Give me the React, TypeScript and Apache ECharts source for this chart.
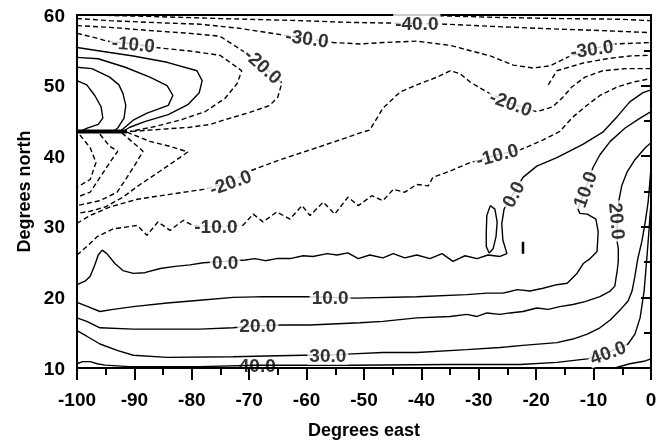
import React, { useEffect, useRef } from "react";
import * as echarts from "echarts";

// ---- contour polylines (degrees east, degrees north) ----
const cM50 = [[-41.1,60],[-35,59.85],[-26.3,59.65],[-15.9,59.5],[-5.4,59.4],[0,59.2]];
const cM40 = [[-97.7,60],[-87.3,59.8],[-75.1,59.5],[-61.1,59.2],[-52.4,58.95],[-40.8,58.8],[-35.9,58.7],[-28,58.4],[-19.3,58.1],[-8.9,57.8],[0,57.5]];
const cM30 = [[-100,59.5],[-94.3,59.2],[-87.3,58.95],[-78.6,58.7],[-71.6,58.1],[-65.2,57.3],[-59.9,56.7],[-55.4,56.1],[-50.7,55.9],[-46.7,56.1],[-40.8,56.3],[-35,55.7],[-28,54.2],[-24,52.9],[-20.6,52.5],[-17.6,52.8],[-14.6,54],[-10.3,55.2],[-6.3,55.9],[0,56.1]];
const cM20Upper = [[-100,58.5],[-94.3,58.25],[-87.3,57.8],[-80.3,57.4],[-75.1,57],[-71.1,54.9],[-67.6,52.8],[-64.3,50.4],[-65,48.4],[-66.4,47.2],[-69.9,46.2],[-73.3,45.4],[-76.8,44.5],[-80.3,44.1],[-85.5,43.8],[-90.8,43.5]];
const cM10Upper = [[-100,57.4],[-96.9,56.8],[-94.8,56.3],[-90.2,55.9],[-86.4,55.4],[-80.3,54.9],[-75.1,54.3],[-71.3,52.1],[-72.1,50.3],[-74.2,48.2],[-77.7,46.3],[-82.1,45.1],[-86.4,44.2],[-90.8,43.5]];
const cM20Lower = [[-100,30.5],[-97.7,31.6],[-94.3,32.8],[-89.5,33.9],[-83.8,34.6],[-78,35.3],[-73.3,36.3],[-69.9,37.9],[-64.6,39.5],[-59.4,40.9],[-54.2,42.3],[-50.7,43.3],[-49,43.7],[-46.7,46.8],[-43.7,49.1],[-40.8,50.1],[-37.3,51.2],[-35,52.1],[-33.3,51.7],[-31.5,50.5],[-28.6,49.1],[-24.4,47.5],[-19.9,46.3],[-17.1,47],[-15.3,48.4],[-13.8,49.8],[-11.5,51.2],[-8.4,52.1],[-4.5,52.4],[0,52.4]];
const cM10Lower = [[-100,26],[-98.3,27.2],[-96.5,28.6],[-93.7,29.7],[-89.5,30.2],[-87.8,28.8],[-85.9,30.7],[-83.8,29.5],[-81.5,30.9],[-79.8,30.2],[-75.8,30],[-71.1,30.2],[-69.3,31.8],[-67.6,30.7],[-65.2,32.1],[-62.9,31.1],[-60.8,33],[-59.4,31.6],[-57.1,33.5],[-55.1,31.8],[-52.8,34.2],[-51,33],[-48.6,34.4],[-46.7,33.7],[-44.9,35.3],[-42.9,34.9],[-40.8,36],[-38.8,35.8],[-38,37],[-35,37.9],[-31.5,39.1],[-26.8,40.2],[-22.8,40.9],[-18.8,42.3],[-15.9,43.5],[-13.8,45.4],[-11.5,47],[-8.9,48.6],[-5.9,49.8],[-3.1,50.5],[0,51]];
const cMExtra = [[-17.9,50.1],[-16.4,52.1],[-11.8,53.2],[-7.7,53.8],[-3.7,54.2],[0,54.3]];
const fan1 = [[-91.3,43.4],[-87.3,42.1],[-83.8,41.4],[-80.7,40.6],[-82.1,39.8],[-85.5,37.9],[-89,36],[-92,34.2],[-95.1,32.8],[-97.7,32.2],[-100,31.9]];
const fan2 = [[-92.2,43.3],[-89.9,41.7],[-88.5,40.7],[-89.5,39.3],[-91.3,37],[-93,34.9],[-96,33.7],[-100,33]];
const fan3 = [[-96,43.1],[-94.3,41.4],[-92.9,40.7],[-93.7,39.8],[-96,37],[-97.7,34.9],[-100,34.2]];
const fan4 = [[-99.5,43],[-97.7,41.2],[-96.7,39.1],[-97.7,36.7],[-100,35.6]];

const bubble0 = [[-100,55.4],[-96,54.9],[-90.2,54.2],[-84.3,53.3],[-79.1,52.1],[-78.2,50.7],[-78.7,49],[-80.7,47.3],[-84.1,45.9],[-88.2,44.9],[-90.8,44.1],[-92,43.5]];
const bubble10 = [[-100,54],[-96.3,53.8],[-91.6,52.6],[-87.3,51.2],[-84.3,50],[-83.3,48.6],[-84.1,47.2],[-87.8,46.1],[-90.2,45.1],[-91.8,44],[-92.5,43.5]];
const bubble20 = [[-100,52.6],[-97.4,52.4],[-94.3,51.2],[-92.7,50.1],[-92,48.9],[-91.5,47.2],[-91.8,45.4],[-92.9,44],[-93.7,43.5]];
const bubble30 = [[-100,50.7],[-98.3,50.1],[-96.9,48.6],[-95.8,47],[-95.5,45.4],[-96.3,44.5],[-98.1,44],[-99.5,43.5]];
const thickFront = [[-100,43.5],[-91.3,43.5]];

const c0 = [[-100,21.8],[-98.6,22.3],[-97.7,23],[-96.9,24.6],[-96.3,26],[-95.6,26.7],[-94.8,26.2],[-93.4,24.8],[-92,23.8],[-90.2,23.4],[-88.2,23.5],[-85.5,24.1],[-82.9,24.4],[-80.3,24.6],[-78,24.9],[-74.2,25.1],[-70.7,25.3],[-69,25.5],[-67.2,25.2],[-65.2,25.5],[-62.9,25.5],[-60.6,25.9],[-58.9,25.8],[-56.4,26.2],[-54.7,26],[-52.8,26.3],[-51,25.5],[-49,26],[-46.7,25.6],[-44.9,26.2],[-42.9,25.6],[-40.8,26],[-38.5,25.5],[-36.4,26.2],[-34.5,25.1],[-32.4,25.9],[-30.3,25.5],[-28.4,26],[-26.3,25.8],[-25.1,26.2],[-25.8,28.1],[-26,30.4],[-25.6,32.5],[-24,34.7],[-22.3,37],[-19.9,38.6],[-16.4,39.8],[-11.8,41.7],[-8.4,43.4],[-5.9,45.6],[-3.7,47.7],[-1.4,49],[0,49.4]];
const c0Loop = [[-28,33],[-27.2,32.5],[-26.8,30.7],[-27,28.6],[-27.5,26.9],[-28.2,26.3],[-28.7,27.2],[-28.7,29.3],[-28.6,31.6],[-28,33]];
const c0Dot = [[-22.3,27.9],[-22.3,26.2]];
const c10 = [[-100,19.3],[-98.1,18.7],[-96,18],[-93.7,18.3],[-90.2,18.7],[-84.3,19.2],[-78.6,19.6],[-72.8,20],[-67.6,20.1],[-59.9,20.1],[-55.9,20],[-51.6,19.9],[-40.8,20.1],[-32.1,20.4],[-28.6,20.6],[-25.8,20.6],[-23.3,21.1],[-21.1,20.9],[-18.8,21.3],[-16.4,21.8],[-14.6,22],[-12.9,23.4],[-11.8,24.8],[-10.6,25.5],[-9.4,26.5],[-9.2,29.3],[-9.6,31.1],[-11.1,31.8],[-12.4,31.9],[-12.7,32.5],[-11.5,35.3],[-10.1,38.4],[-8.9,40.2],[-7.1,42.1],[-4.5,44],[-1.9,45.4],[0,46.3]];
const c20 = [[-100,17.1],[-98.3,16.6],[-96,15.7],[-90.2,15.5],[-84.3,15.5],[-78.6,15.5],[-72.8,15.7],[-68.5,16],[-64.1,16.1],[-59.4,16.1],[-50.7,16.4],[-46.7,16.6],[-40.8,17.1],[-35,17.3],[-32.1,17.6],[-30.3,17.3],[-28.6,17.8],[-26.3,17.6],[-24.6,17.8],[-22.3,18],[-19.9,18.5],[-17.9,18.3],[-15.9,18.7],[-13.6,19],[-11.5,19.4],[-8.9,20.1],[-7.1,20.9],[-6.3,21.6],[-6.1,22.7],[-5.9,23.7],[-5.7,25.1],[-5.7,26.9],[-5.9,27.9],[-5.9,30.8],[-5.6,33.7],[-5.1,35.8],[-4.2,37.7],[-2.8,39.5],[-1,41.2],[0,41.9]];
const c30 = [[-100,15.3],[-98.3,14.5],[-96,13.4],[-93,12.5],[-90.2,11.8],[-84.3,11.5],[-72.8,11.6],[-60.6,11.8],[-56.3,11.8],[-52.1,12],[-46.7,12.2],[-40.8,12.2],[-32.1,12.6],[-26.3,12.9],[-22.3,13.2],[-16.4,13.6],[-13.6,14.1],[-11.1,14.8],[-8.9,15.7],[-7.1,16.8],[-5.4,18.2],[-4,19.5],[-3.3,20.9],[-2.8,23],[-2.3,25.5],[-1.6,27.9],[-1,30.7],[-0.5,33.5],[-0.2,36.3],[0,38.4]];
const c40 = [[-100,10.6],[-99,10.9],[-97.7,10.9],[-96.5,10.6],[-95.1,10.4],[-90.8,10.2],[-78.6,10.2],[-68.6,10.4],[-52.4,10.4],[-35,10.5],[-22.8,10.5],[-16.4,10.8],[-11.1,11.3],[-7.5,12.2],[-4,13.4],[-2.8,14.8],[-1.9,17.1],[-1.2,20.9],[-0.7,25.8],[-0.3,30],[0,33.5]];
const c50 = [[-6.3,10],[-3.7,10.6],[-1,11],[0,11.3]];

// ---- contour labels: level, position, text angle ----
const labelLevels = [-10, -30, -20, -40, -30, -20, -10, -20, -10, 0, 0, 10, 20, 10, 20, 30, 40, 40];
const labelX = [-90.2, -59.9, -67.6, -40.8, -10.3, -24.4, -26.8, -73.3, -75.8, -74.2, -24.0, -11.5, -5.9, -55.9, -68.5, -56.3, -68.6, -7.5];
const labelY = [55.9, 56.7, 52.8, 58.8, 55.2, 47.5, 40.2, 36.3, 30.0, 24.9, 34.6, 35.3, 30.8, 20.0, 16.0, 11.8, 10.4, 12.2];
const labelAngle = [-5, -8, -42, 0, 8, -20, 15, 20, 0, 0, 62, 70, -85, 0, 0, 0, 0, 20];

const dashedLines = [cM50, cM40, cM30, cM20Upper, cM10Upper, cM20Lower, cM10Lower, cMExtra, fan1, fan2, fan3, fan4];
const solidLines = [bubble0, bubble10, bubble20, bubble30, c0, c0Loop, c10, c20, c30, c40, c50];

const FONT = '"Liberation Sans", Arial, Helvetica, sans-serif';

export default function App() {
  const ref = useRef<HTMLDivElement>(null);
  useEffect(() => {
    const chart = echarts.init(ref.current!, null, { renderer: "svg" });
    const series: any[] = [];
    dashedLines.forEach((d) =>
      series.push({
        type: "line", data: d, showSymbol: false, symbol: "none", silent: true, z: 2,
        lineStyle: { color: "#000", width: 1.4, type: [5, 3] },
      })
    );
    solidLines.forEach((d) =>
      series.push({
        type: "line", data: d, showSymbol: false, symbol: "none", silent: true, z: 2,
        lineStyle: { color: "#000", width: 1.4 },
      })
    );
    series.push({
      type: "line", data: thickFront, showSymbol: false, symbol: "none", silent: true, z: 2,
      lineStyle: { color: "#000", width: 4 },
    });
    series.push({
      type: "line", data: c0Dot, showSymbol: false, symbol: "none", silent: true, z: 2,
      lineStyle: { color: "#000", width: 2.5 },
    });
    series.push({
      type: "scatter", symbolSize: 0, silent: true, z: 5,
      data: labelLevels.map((v, i) => ({
        value: [labelX[i], labelY[i]],
        label: {
          show: true, position: "inside", rotate: labelAngle[i],
          formatter: v.toFixed(1),
          color: "#000", fontFamily: FONT, fontWeight: "bold", fontSize: 19,
          backgroundColor: labelY[i] < 10.6 ? "transparent" : "#fff",
          padding: [0, 2],
        },
      })),
    });
    const axisCommon = {
      type: "value",
      axisLine: { show: true, lineStyle: { color: "#000", width: 2 } },
      splitLine: { show: false },
      axisLabel: { color: "#000", fontFamily: FONT, fontWeight: "bold", fontSize: 19 },
      nameTextStyle: { color: "#000", fontFamily: FONT, fontWeight: "bold", fontSize: 18 },
      nameLocation: "middle",
    };
    chart.setOption({
      animation: false,
      grid: { left: 77, top: 15, width: 574, height: 357, show: true, borderColor: "#000", borderWidth: 2 },
      xAxis: {
        ...axisCommon, min: -100, max: 0, interval: 10,
        name: "Degrees east", nameGap: 53,
        axisTick: { show: true, length: 12, lineStyle: { color: "#000", width: 2 } },
        minorTick: { show: true, splitNumber: 2, length: 7, lineStyle: { color: "#000", width: 2 } },
        axisLabel: { ...axisCommon.axisLabel, margin: 22 },
      },
      yAxis: {
        ...axisCommon, min: 10, max: 60, interval: 10,
        name: "Degrees north", nameGap: 44, nameRotate: 90,
        axisTick: { show: true, length: 10, lineStyle: { color: "#000", width: 2 } },
        minorTick: { show: true, splitNumber: 2, length: 7, lineStyle: { color: "#000", width: 2 } },
        axisLabel: { ...axisCommon.axisLabel, margin: 12 },
      },
      series,
    });
    return () => chart.dispose();
  }, []);
  return <div ref={ref} style={{ position: "fixed", left: 0, top: 0, width: 663, height: 444 }} />;
}
